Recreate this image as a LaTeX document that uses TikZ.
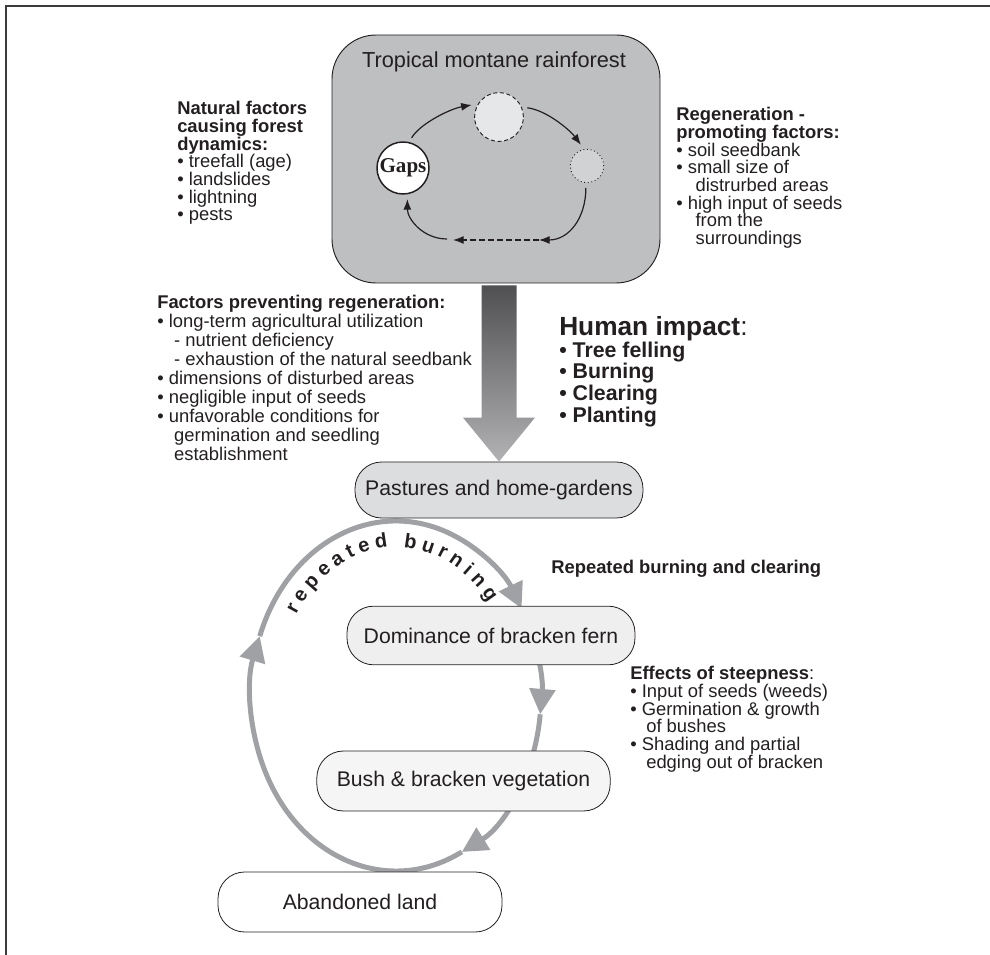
\documentclass[tikz,border=0pt]{standalone}
\usepackage{fontspec}
\setmainfont{Liberation Sans}
\newfontfamily\gapsfont{Liberation Serif}
\usetikzlibrary{arrows.meta,calc,decorations.text}

\definecolor{inkdark}{RGB}{35,31,32}
\definecolor{forestfill}{RGB}{190,191,193}
\definecolor{pioneerfill}{RGB}{230,231,232}
\definecolor{buildingfill}{RGB}{209,210,212}
\definecolor{pasturefill}{RGB}{220,221,223}
\definecolor{fernfill}{RGB}{239,239,240}
\definecolor{bushfill}{RGB}{245,245,245}
\definecolor{loopgray}{RGB}{160,161,165}
\definecolor{arrowdark}{RGB}{80,80,82}
\definecolor{arrowlight}{RGB}{178,178,180}
\definecolor{framegray}{RGB}{60,60,60}

\tikzset{
  stagebox/.style={draw=inkdark, line width=0.6pt, rounded corners=20pt, inner sep=0pt, text=inkdark, font=\fontsize{15.9}{19}\selectfont},
  phase/.style={circle, inner sep=0pt, outer sep=4pt, line width=0.7pt, draw=inkdark},
  cyclearrow/.style={draw=inkdark, line width=0.9pt, -{Latex[length=8pt,width=6pt]}},
  looparrow/.style={draw=loopgray, line width=3.75pt, -{Triangle[length=19pt,width=19pt]}},
  notes/.style={anchor=north west, inner sep=0pt, align=left, text=inkdark, font=\fontsize{13.8}{13.3}\selectfont},
}

\begin{document}
\begin{tikzpicture}[x=0.75pt,y=0.75pt,yscale=-1,xscale=1]
\useasboundingbox (0,0) rectangle (990,955);

%Frame
\draw [framegray, line width=1.6pt] (6,955) -- (6,6) -- (990,6);

%Repeated burning loop
\coordinate (loop) at (396,696);
\draw [looparrow] (loop) ++(200:145 and 175) arc [start angle=200, end angle=330, x radius=145, y radius=175];
\draw [looparrow] (loop) ++(330:145 and 175) arc [start angle=330, end angle=366, x radius=145, y radius=175];
\draw [looparrow] (loop) ++(6:145 and 175) arc [start angle=6, end angle=63, x radius=145, y radius=175];
\draw [looparrow] (loop) ++(63:145 and 175) arc [start angle=63, end angle=200, x radius=145, y radius=175];
\path [decorate, decoration={text along path, text align=fit to path, text={|\fontsize{15}{15}\selectfont\bfseries\color{inkdark}|repeated burning}}] (loop) ++(213:119 and 149) arc [start angle=213, end angle=321, x radius=119, y radius=149];

%Land use stages
\node [stagebox, fill=pasturefill, minimum width=216pt, minimum height=42pt] (pastures) at (499,490) {Pastures and home-gardens};
\node [stagebox, fill=fernfill, minimum width=216pt, minimum height=44pt] (fern) at (491,635.5) {Dominance of bracken fern};
\node [stagebox, fill=bushfill, minimum width=220pt, minimum height=45pt] (bush) at (463.5,781) {Bush \& bracken vegetation};
\node [stagebox, fill=white, minimum width=213pt, minimum height=45pt] (abandoned) at (360,902) {Abandoned land};

%Forest box
\node [draw=inkdark, fill=forestfill, line width=0.7pt, rounded corners=33pt, minimum width=246pt, minimum height=186pt] (forest) at (496,159) {};
\node [text=inkdark, font=\fontsize{16.3}{19}\selectfont, anchor=base] (foresttitle) at (494,68) {Tropical montane rainforest};

%Gap dynamics cycle
\node [phase, fill=white, line width=1.1pt, minimum size=39pt, text=inkdark, font=\gapsfont\bfseries\fontsize{15.8}{18}\selectfont] (gaps) at (403,168) {Gaps};
\node [phase, fill=pioneerfill, dash pattern=on 3pt off 2pt, minimum size=36.6pt] (pioneer) at (499,117) {};
\node [phase, fill=buildingfill, dotted, minimum size=25pt] (building) at (587,166) {};
\coordinate (dashR) at (539,240);
\coordinate (dashL) at (453,240);
\coordinate (cycleL) at (447,239);
\draw [cyclearrow] (gaps.74) .. controls +(8,-14) and +(-22,4) .. (pioneer.156);
\draw [cyclearrow] (pioneer.18) .. controls +(18,2) and +(-12,-16) .. (building.106);
\draw [cyclearrow] (building.267) .. controls +(0,30) and +(30,0) .. (dashR);
\draw [cyclearrow, dash pattern=on 4.5pt off 2.25pt] (dashR) -- (dashL);
\draw [cyclearrow] (cycleL) .. controls +(-24,0) and +(0,20) .. (gaps.-82);

%Human impact arrow
\coordinate (shafttop) at (pastures.north |- forest.south);
\shade [top color=arrowdark, bottom color=arrowlight] ($(shafttop)+(-17.5,2)$) -- ($(shafttop)+(17.5,2)$) -- ($(pastures.north)+(17.5,-44)$) -- ($(pastures.north)+(36,-44)$) -- (pastures.north) -- ($(pastures.north)+(-36,-44)$) -- ($(pastures.north)+(-17.5,-44)$) -- cycle;

%Notes
\node [notes] (natural) at (177,101) {\textbf{Natural factors}\\\textbf{causing forest}\\\textbf{dynamics:}\\• treefall (age)\\• landslides\\• lightning\\• pests};
\node [notes] (promoting) at (676,107) {\textbf{Regeneration -}\\\textbf{promoting factors:}\\• soil seedbank\\• small size of\\\hspace*{1.05em}distrurbed areas\\• high input of seeds\\\hspace*{1.05em}from the\\\hspace*{1.05em}surroundings};
\node [notes, font=\fontsize{13.8}{14.2}\selectfont] (preventing) at (157,295) {\textbf{Factors preventing regeneration:}\\• long-term agricultural utilization\\\hspace*{0.92em}- nutrient deficiency\\\hspace*{0.92em}- exhaustion of the natural seedbank\\• dimensions of disturbed areas\\• negligible input of seeds\\• unfavorable conditions for\\\hspace*{0.92em}germination and seedling\\\hspace*{0.92em}establishment};
\node [notes, font=\fontsize{16}{16.3}\selectfont\bfseries] (impact) at (559,316) {{\fontsize{19.7}{22}\selectfont Human impact\mdseries:}\\• Tree felling\\• Burning\\• Clearing\\• Planting};
\node [notes, font=\fontsize{13.8}{13.3}\selectfont\bfseries] (clearing) at (551,560) {Repeated burning and clearing};
\node [notes] (steepness) at (630,666) {\textbf{Effects of steepness}:\\• Input of seeds (weeds)\\• Germination \& growth\\\hspace*{0.87em}of bushes\\• Shading and partial\\\hspace*{0.87em}edging out of bracken};

\end{tikzpicture}
\end{document}
